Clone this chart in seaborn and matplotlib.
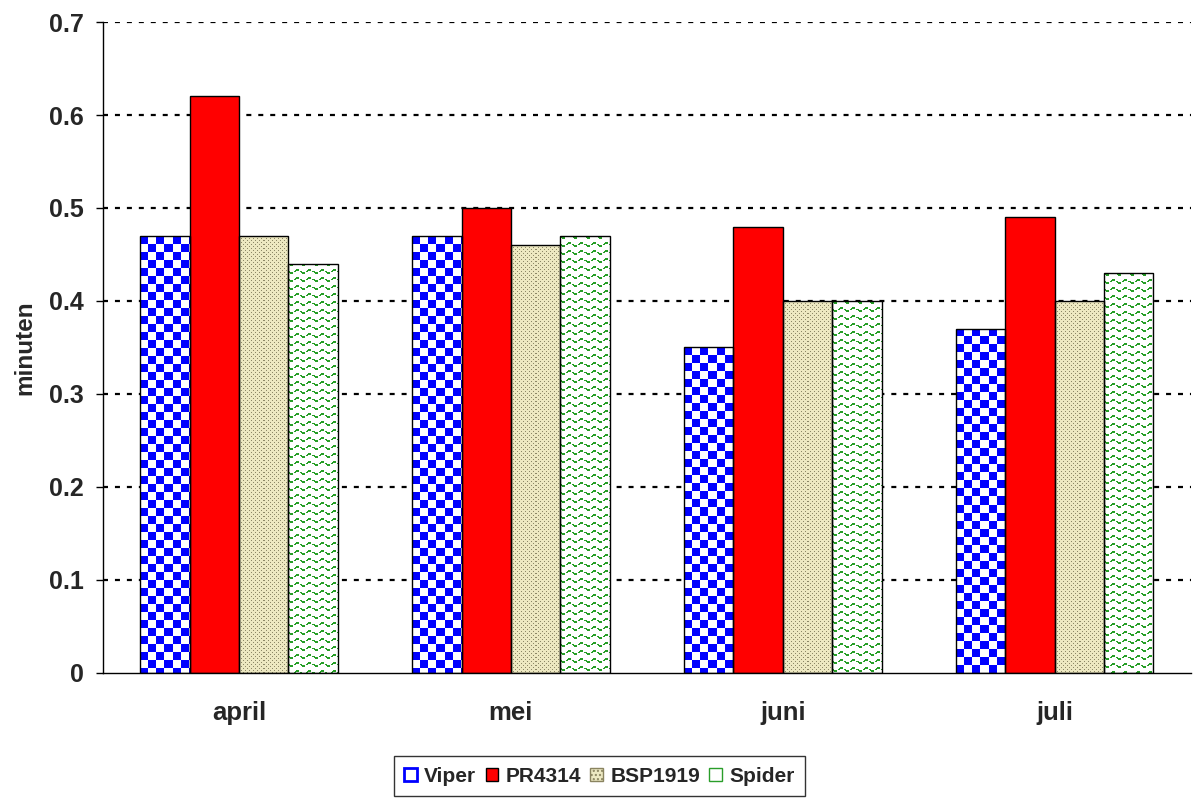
import numpy as np
import pandas as pd
import matplotlib
matplotlib.use("Agg")
import matplotlib.pyplot as plt
from matplotlib.patches import Patch
import seaborn as sns

months = ["april", "mei", "juni", "juli"]
series = ["Viper", "PR4314", "BSP1919", "Spider"]
viper = [0.47, 0.47, 0.35, 0.37]
pr4314 = [0.62, 0.50, 0.48, 0.49]
bsp1919 = [0.47, 0.46, 0.40, 0.40]
spider = [0.44, 0.47, 0.40, 0.43]
yticks = [0, 0.1, 0.2, 0.3, 0.4, 0.5, 0.6, 0.7]
ytick_labels = ["0", "0.1", "0.2", "0.3", "0.4", "0.5", "0.6", "0.7"]

df = pd.DataFrame({
    "maand": months * 4,
    "serie": [s for s in series for _ in months],
    "minuten": viper + pr4314 + bsp1919 + spider,
})

sns.set_style("white")
plt.rcParams["font.family"] = ["Liberation Sans", "DejaVu Sans"]
plt.rcParams["font.weight"] = "bold"
plt.rcParams["lines.scale_dashes"] = False

fig = plt.figure(figsize=(11.99, 8.01), dpi=100)
ax = fig.add_axes([0.086, 0.16, 0.907, 0.8125])

sns.barplot(data=df, x="maand", y="minuten", hue="serie", order=months,
            hue_order=series, palette=["white"] * 4, width=0.727, gap=0,
            edgecolor="black", linewidth=1.0, legend=False, ax=ax, zorder=3)

ax.set_xlim(-0.5, 3.5)
ax.set_ylim(0, 0.7)
ax.set_yticks(yticks)
ax.set_yticklabels(ytick_labels, fontsize=18, fontweight="bold")
ax.set_xticks(range(len(months)))
ax.set_xticklabels(months, fontsize=18.5, fontweight="bold")
ax.set_xticks([-0.5, 0.5, 1.5, 2.5, 3.5], minor=True)
ax.tick_params(axis="x", which="major", length=0, pad=20)
ax.tick_params(axis="x", which="minor", length=6, width=1, color="black", direction="out")
ax.tick_params(axis="y", length=5, width=1, color="black", direction="out", pad=9, left=True)
ax.set_xlabel("")
ax.set_ylabel("minuten", fontsize=17.5, fontweight="bold", labelpad=9)

for s in ["top", "right"]:
    ax.spines[s].set_visible(False)
for s in ["left", "bottom"]:
    ax.spines[s].set_color("black")
    ax.spines[s].set_linewidth(1.0)

for yv in yticks[1:]:
    ax.axhline(yv, color="black", lw=1.6, linestyle=(0, (3.6, 5.0)), zorder=1)


def pattern(kind, h, w):
    yy, xx = np.mgrid[0:h, 0:w]
    img = np.ones((h, w, 3))
    if kind == "Viper":
        mask = ((xx // 8) + (yy // 8)) % 2 == 0
        img[mask] = [0, 0, 1]
    elif kind == "PR4314":
        img[:] = [1, 0, 0]
    elif kind == "BSP1919":
        img[:] = [0.93, 0.91, 0.76]
        dots = ((yy % 4 == 0) & (xx % 4 == 0)) | ((yy % 4 == 2) & (xx % 4 == 2))
        img[dots] = [0.55, 0.53, 0.40]
    else:
        wave = 8 * np.round(yy / 8) + 1.6 * np.sin(2 * np.pi * xx / 12)
        mask = np.abs(yy - wave) < 0.9
        mask &= (xx % 6) != 5
        img[mask] = [0.15, 0.62, 0.15]
    return img


n = len(months)
for i, p in enumerate(ax.patches):
    kind = series[i // n]
    x0, y0 = p.get_x(), p.get_y()
    w, h = p.get_width(), p.get_height()
    (px0, py0), (px1, py1) = ax.transData.transform([(x0, y0), (x0 + w, y0 + h)])
    hp = max(int(round(abs(py1 - py0))), 1)
    wp = max(int(round(abs(px1 - px0))), 1)
    im = ax.imshow(pattern(kind, hp, wp), extent=(x0, x0 + w, y0, y0 + h),
                   interpolation="nearest", aspect="auto", zorder=2.5, origin="upper")
    im.set_clip_path(p)
    p.set_facecolor("none")
    p.set_zorder(3)

ax.set_xlim(-0.5, 3.5)
ax.set_ylim(0, 0.7)

handles = [
    Patch(facecolor="white", edgecolor="blue", linewidth=2.0, hatch=""),
    Patch(facecolor="red", edgecolor="black", linewidth=1.0),
    Patch(facecolor="#ece8c2", edgecolor="#8a8460", linewidth=1.0, hatch="...."),
    Patch(facecolor="white", edgecolor="#2a9e2a", linewidth=1.0, hatch="~~"),
]
leg = fig.legend(handles, series, loc="upper center", bbox_to_anchor=(0.5, 0.056),
                 ncol=4, frameon=True, fancybox=False, edgecolor="black",
                 prop={"weight": "bold", "size": 15},
                 handlelength=0.6, handleheight=0.6, handletextpad=0.35,
                 columnspacing=0.45, borderpad=0.5, borderaxespad=0)
leg.get_frame().set_linewidth(1.0)

fig.savefig("out.png", dpi=100)
